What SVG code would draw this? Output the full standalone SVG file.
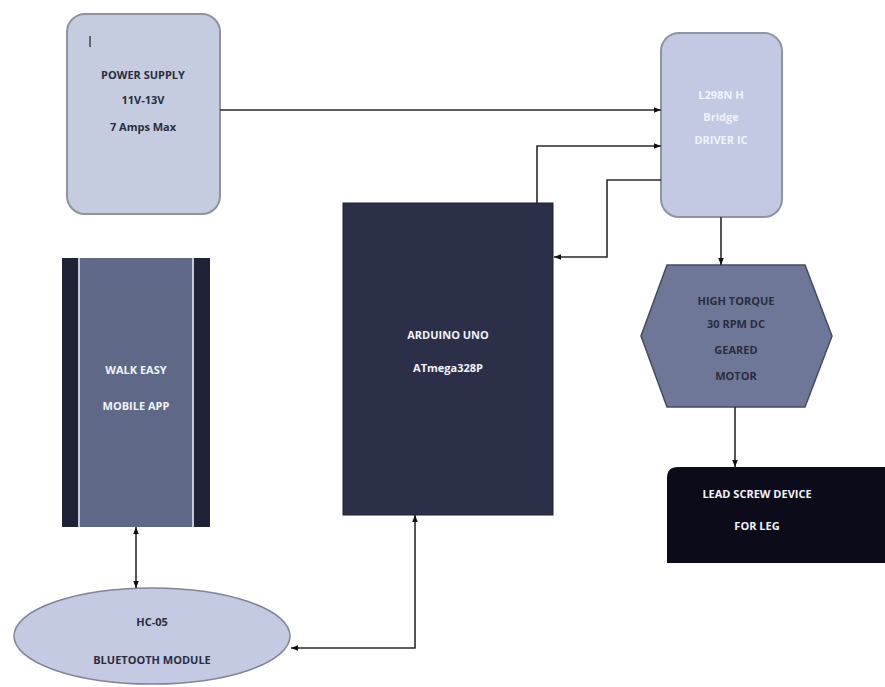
<svg xmlns="http://www.w3.org/2000/svg" width="885" height="687" viewBox="0 0 885 687">
<defs>
<marker id="ah" viewBox="0 0 10 10" refX="10" refY="5" markerWidth="7" markerHeight="7" orient="auto-start-reverse" markerUnits="userSpaceOnUse">
<path d="M0,1 L10,5 L0,9 z" fill="#111"/>
</marker>
</defs>
<style>
.t{font-family:"Open Sans","Liberation Sans",sans-serif;font-size:11px;font-weight:bold;text-anchor:middle}
.dk{fill:#2a2d3c}
.lt{fill:#f2f3f8}
.c{fill:none;stroke:#2a2a2a;stroke-width:1.6}
</style>
<rect width="885" height="687" fill="#ffffff"/>
<g id="power-supply">
<rect x="67" y="14" width="153" height="200" rx="18" fill="#c6cce0" stroke="#8f93a0" stroke-width="2"/>
<line x1="90" y1="36" x2="90" y2="47" stroke="#444" stroke-width="1.5"/>
<text class="t dk" x="143" y="79">POWER SUPPLY</text>
<text class="t dk" x="143" y="104">11V-13V</text>
<text class="t dk" x="143" y="131">7 Amps Max</text>
</g>
<g id="driver-ic">
<rect x="661" y="33" width="121" height="184" rx="18" fill="#c3c9e2" stroke="#8f93a6" stroke-width="2"/>
<text class="t lt" x="721" y="99">L298N H</text>
<text class="t lt" x="721" y="121">Bridge</text>
<text class="t lt" x="721" y="144">DRIVER IC</text>
</g>
<g id="arduino">
<rect x="343" y="203" width="210" height="312" fill="#2b3048" stroke="#1d2030" stroke-width="1"/>
<text class="t lt" x="448" y="339">ARDUINO UNO</text>
<text class="t lt" x="448" y="372">ATmega328P</text>
</g>
<g id="mobile-app">
<rect x="62" y="258" width="148" height="269" fill="#1e2234"/>
<rect x="78" y="258" width="116" height="269" fill="#5f6886"/>
<line x1="79" y1="258" x2="79" y2="527" stroke="#e8eaf2" stroke-width="1.5"/>
<line x1="193" y1="258" x2="193" y2="527" stroke="#e8eaf2" stroke-width="1.5"/>
<text class="t lt" x="136" y="374">WALK EASY</text>
<text class="t lt" x="136" y="410">MOBILE APP</text>
</g>
<g id="motor">
<polygon points="667,265 805,265 832,336 805,407 667,407 641,336" fill="#6e7797" stroke="#454b62" stroke-width="1.5"/>
<text class="t dk" x="736" y="305">HIGH TORQUE</text>
<text class="t dk" x="736" y="328">30 RPM DC</text>
<text class="t dk" x="736" y="354">GEARED</text>
<text class="t dk" x="736" y="380">MOTOR</text>
</g>
<g id="lead-screw">
<path d="M678,467 H885 V563 H667 V478 Q667,467 678,467 z" fill="#0b0b1a"/>
<text class="t lt" x="757" y="498">LEAD SCREW DEVICE</text>
<text class="t lt" x="757" y="530">FOR LEG</text>
</g>
<g id="bluetooth">
<ellipse cx="152" cy="636" rx="138" ry="48" fill="#c4cae2" stroke="#7f8496" stroke-width="1.5"/>
<text class="t dk" x="152" y="626">HC-05</text>
<text class="t dk" x="152" y="664">BLUETOOTH MODULE</text>
</g>
<g id="connectors">
<path class="c" d="M220,110 H661" marker-end="url(#ah)"/>
<path class="c" d="M537,203 V146 H661" marker-end="url(#ah)"/>
<path class="c" d="M661,180 H607 V257 H554" marker-end="url(#ah)"/>
<path class="c" d="M721,217 V265" marker-end="url(#ah)"/>
<path class="c" d="M735,407 V467" marker-end="url(#ah)"/>
<path class="c" d="M136,527 V588" marker-start="url(#ah)" marker-end="url(#ah)"/>
<path class="c" d="M415,515 V648 H291" marker-start="url(#ah)" marker-end="url(#ah)"/>
</g>
</svg>
